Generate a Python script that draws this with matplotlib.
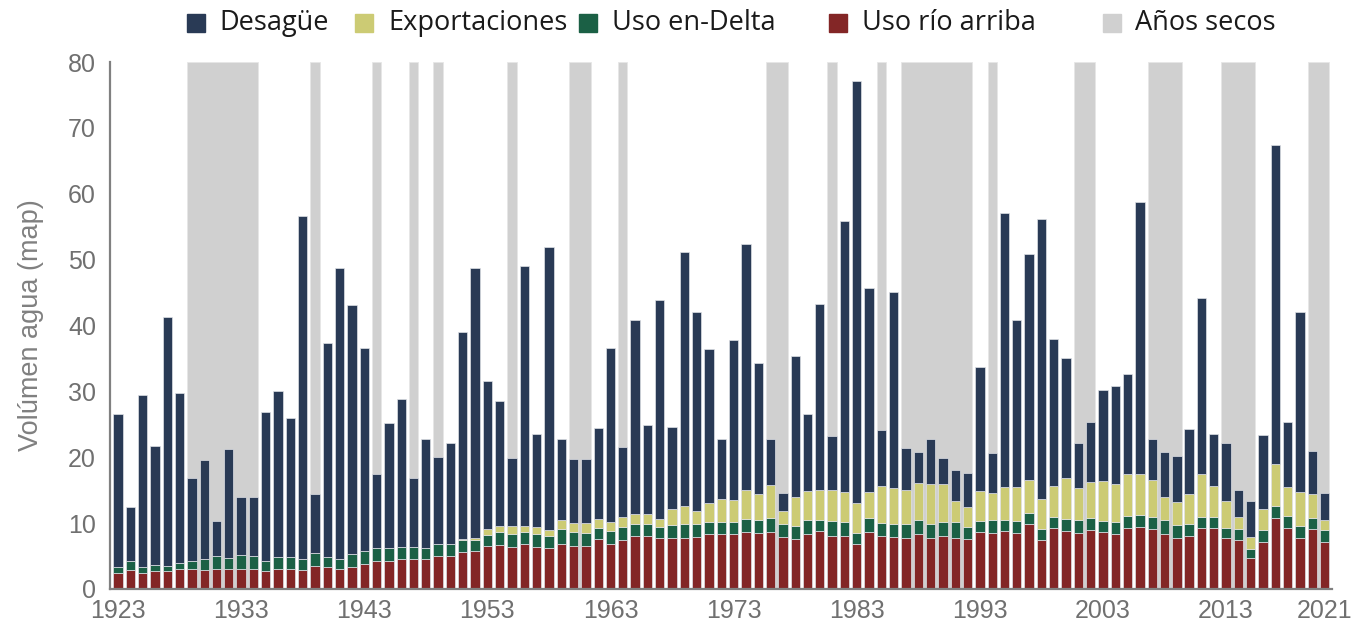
import matplotlib
matplotlib.use("Agg")
import matplotlib.pyplot as plt
from matplotlib.patches import Rectangle

anios = list(range(1923, 2022))

uso_rio_arriba = [
    2.5, 2.9, 2.4, 2.7, 2.7, 3.0, 3.0, 2.9, 3.1, 3.0,
    3.1, 3.0, 2.7, 3.1, 3.1, 2.9, 3.5, 3.3, 3.1, 3.4,
    3.8, 4.3, 4.3, 4.5, 4.6, 4.5, 5.0, 5.0, 5.6, 5.7,
    6.5, 6.7, 6.4, 6.9, 6.3, 6.2, 6.9, 6.6, 6.6, 7.6,
    6.9, 7.4, 8.1, 8.0, 7.7, 7.8, 7.8, 7.9, 8.3, 8.3,
    8.3, 8.6, 8.5, 8.6, 7.9, 7.6, 8.4, 8.8, 8.1, 8.0,
    6.8, 8.6, 8.1, 7.9, 7.7, 8.3, 7.7, 8.1, 7.8, 7.6,
    8.6, 8.5, 8.8, 8.5, 9.8, 7.4, 9.2, 8.8, 8.5, 9.0,
    8.6, 8.4, 9.3, 9.4, 9.1, 8.4, 7.8, 8.1, 9.3, 9.2,
    7.7, 7.5, 4.7, 7.2, 10.8, 9.2, 7.7, 9.1, 7.2,
]
uso_en_delta = [
    0.9, 1.4, 0.9, 1.0, 0.8, 1.0, 1.3, 1.7, 1.9, 1.7,
    2.0, 2.0, 1.6, 1.8, 1.7, 1.6, 2.0, 1.6, 1.5, 1.9,
    1.9, 1.9, 1.9, 1.8, 1.7, 1.7, 1.9, 1.8, 1.9, 1.8,
    1.7, 1.9, 2.0, 1.7, 2.0, 1.9, 2.2, 2.0, 1.9, 1.7,
    1.9, 2.0, 1.8, 1.8, 1.7, 1.9, 2.0, 2.0, 1.9, 1.8,
    1.8, 2.0, 2.0, 2.2, 1.9, 1.9, 2.0, 1.7, 2.2, 2.1,
    1.7, 2.2, 1.9, 2.0, 2.2, 2.2, 2.2, 2.0, 2.3, 1.8,
    1.7, 2.0, 1.6, 1.8, 1.8, 1.7, 1.7, 1.8, 1.9, 1.8,
    1.7, 1.7, 1.8, 1.8, 1.8, 2.0, 1.9, 1.7, 1.6, 1.7,
    1.6, 1.6, 1.4, 1.7, 1.8, 1.9, 1.8, 1.7, 1.7,
]
exportaciones = [
    0, 0, 0, 0, 0, 0, 0, 0, 0, 0,
    0, 0, 0, 0, 0, 0, 0, 0, 0, 0,
    0, 0, 0, 0, 0, 0, 0, 0, 0.1, 0.2,
    0.9, 1.0, 1.2, 0.9, 1.1, 0.8, 1.4, 1.4, 1.5, 1.3,
    1.3, 1.6, 1.5, 1.6, 1.2, 2.5, 2.8, 2.0, 2.8, 3.5,
    3.4, 4.4, 3.9, 5.0, 2.1, 4.4, 4.5, 4.6, 4.7, 4.7,
    4.5, 3.9, 5.6, 5.4, 5.1, 5.6, 6.0, 5.8, 3.2, 3.0,
    4.6, 4.0, 5.1, 5.2, 5.0, 4.6, 4.7, 6.2, 5.0, 5.4,
    6.1, 5.9, 6.3, 6.2, 5.6, 3.5, 3.5, 4.6, 6.6, 4.7,
    4.1, 1.9, 1.8, 3.3, 6.4, 4.4, 5.3, 3.6, 1.6,
]
desague = [
    23.1, 8.1, 26.1, 18.0, 37.8, 25.7, 12.6, 15.0, 5.3, 16.6,
    8.8, 8.9, 22.5, 25.1, 21.2, 52.1, 8.9, 32.4, 44.1, 37.8,
    30.9, 11.3, 19.0, 22.6, 10.5, 16.5, 13.1, 15.3, 31.4, 41.1,
    22.4, 18.9, 10.3, 39.6, 14.1, 43.0, 12.2, 9.7, 9.7, 13.9,
    26.5, 10.5, 29.4, 13.5, 33.2, 12.4, 38.5, 30.2, 23.4, 9.1,
    24.3, 37.4, 19.9, 6.9, 2.6, 21.4, 11.6, 28.1, 8.2, 41.1,
    64.1, 31.0, 8.6, 29.8, 6.4, 4.7, 6.9, 4.0, 4.8, 5.2,
    18.8, 6.1, 41.6, 25.3, 34.3, 42.5, 22.3, 18.2, 6.8, 9.1,
    13.8, 14.8, 15.3, 41.4, 6.2, 6.9, 7.0, 9.9, 26.6, 7.9,
    8.8, 4.1, 5.5, 11.2, 48.4, 9.8, 27.3, 6.6, 4.1,
]
anios_secos = [1929, 1930, 1931, 1932, 1933, 1934, 1939, 1944, 1947, 1949,
               1955, 1960, 1961, 1964, 1976, 1977, 1981, 1985,
               1987, 1988, 1989, 1990, 1991, 1992, 1994, 2001, 2002,
               2007, 2008, 2009, 2013, 2014, 2015, 2020, 2021]
ticks_x = [1923, 1933, 1943, 1953, 1963, 1973, 1983, 1993, 2003, 2013, 2021]

c_des = "#293a55"
c_exp = "#cccb74"
c_del = "#1b6045"
c_rio = "#832626"
c_gris = "#d0d0d0"

W, H = 1369, 634
fig = plt.figure(figsize=(W / 100, H / 100), dpi=100)
ax = fig.add_axes([110 / W, 1 - 589 / H, 1222 / W, 527 / H])

ancho = 0.76

# bandas grises de años secos (tramos consecutivos juntos)
tramos = []
for a in anios_secos:
    if tramos and a == tramos[-1][1] + 1:
        tramos[-1][1] = a
    else:
        tramos.append([a, a])
for ini, fin in tramos:
    ax.bar((ini + fin) / 2, 80, width=(fin - ini) + ancho, color=c_gris,
           edgecolor="#e6e6e6", linewidth=0.6, zorder=1)

base = [0.0] * len(anios)
for vals, col in [(uso_rio_arriba, c_rio), (uso_en_delta, c_del),
                  (exportaciones, c_exp), (desague, c_des)]:
    ax.bar(anios, vals, bottom=base, width=ancho, color=col,
           edgecolor="#dfe1e6", linewidth=0.5, zorder=2)
    base = [b + v for b, v in zip(base, vals)]

ax.set_xlim(1922.35, 2021.6)
ax.set_ylim(0, 80)
ax.set_yticks(range(0, 81, 10))
ax.set_xticks(ticks_x)
ax.tick_params(axis="both", length=0, labelsize=18, labelcolor="#707070",
               labelfontfamily="Liberation Sans")
ax.tick_params(axis="y", pad=10)
ax.tick_params(axis="x", pad=7)
for s in ["top", "right"]:
    ax.spines[s].set_visible(False)
for s in ["left", "bottom"]:
    ax.spines[s].set_color("#808080")
    ax.spines[s].set_linewidth(1.6)
    ax.spines[s].set_zorder(3)
ax.set_ylabel("Volúmen agua (map)", fontsize=19.5, color="#808080",
              family="Liberation Sans", labelpad=17)

# leyenda arriba
leyenda = [("Desagüe", c_des, 187, 219), ("Exportaciones", c_exp, 355, 388),
           ("Uso en-Delta", c_del, 579, 612), ("Uso río arriba", c_rio, 829, 862),
           ("Años secos", c_gris, 1103, 1135)]
for txt, col, xs, xt in leyenda:
    fig.add_artist(Rectangle((xs / W, 1 - 32 / H), 18 / W, 18 / H, color=col,
                             transform=fig.transFigure))
    fig.text(xt / W, 1 - 23 / H, txt, fontsize=19.5, family="Open Sans",
             color="#1a1a1a", va="center", ha="left")

fig.savefig("out.png", dpi=100)
